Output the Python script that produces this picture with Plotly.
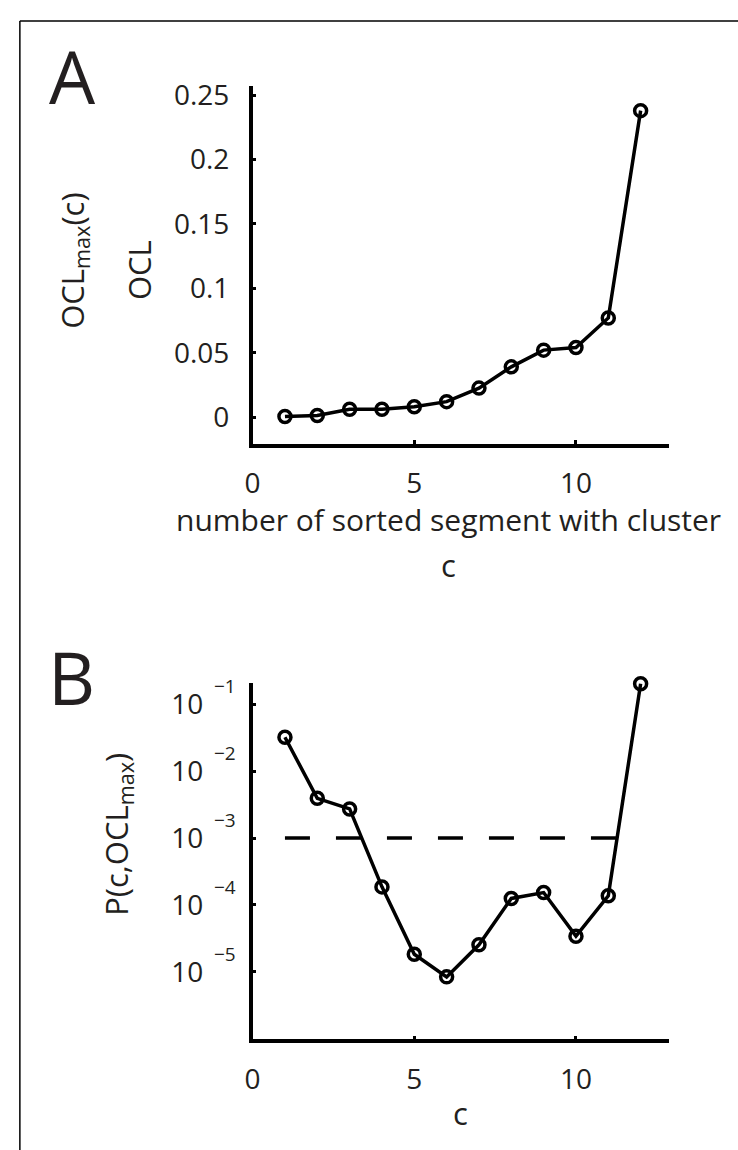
import math
import plotly.graph_objects as go

# ---- data ----
segments = [1, 2, 3, 4, 5, 6, 7, 8, 9, 10, 11, 12]
ocl_values = [0.0005, 0.0013, 0.006, 0.006, 0.008, 0.012, 0.0225, 0.039, 0.052, 0.054, 0.077, 0.238]
p_values = [0.0321, 0.00392, 0.00272, 1.86e-4, 1.83e-5, 8.4e-6, 2.53e-5, 1.25e-4, 1.53e-4, 3.41e-5, 1.37e-4, 0.203]
threshold_x = [1, 12]
threshold_y = [1e-3, 1e-3]

xticks = [0, 5, 10]
yticks_a = [0, 0.05, 0.1, 0.15, 0.2, 0.25]
yticklabels_a = ["0", "0.05", "0.1", "0.15", "0.2", "0.25"]
yticks_b = [1e-1, 1e-2, 1e-3, 1e-4, 1e-5]
yticklabels_b = ["10", "10", "10", "10", "10"]
yexponents_b = ["\u22121", "\u22122", "\u22123", "\u22124", "\u22125"]

W, H = 738, 1150
FONT = "Open Sans"
TXT = "#231f20"


def px(x):
    return x / W


def py(y):
    return 1 - y / H


fig = go.Figure()

line_style = dict(color="black", width=3.5)
marker_style = dict(symbol="circle-open", size=12, color="black", line=dict(width=3.5, color="black"))

fig.add_trace(go.Scatter(x=segments, y=ocl_values, mode="lines+markers", line=line_style,
                         marker=marker_style, xaxis="x", yaxis="y", cliponaxis=False, showlegend=False))
fig.add_trace(go.Scatter(x=threshold_x, y=threshold_y, mode="lines",
                         line=dict(color="black", width=3.5, dash="25px,26px"),
                         xaxis="x2", yaxis="y2", showlegend=False))
fig.add_trace(go.Scatter(x=segments, y=p_values, mode="lines+markers", line=line_style,
                         marker=marker_style, xaxis="x2", yaxis="y2", cliponaxis=False, showlegend=False))

xdom = [px(247.3), px(668)]
axis_common = dict(showgrid=False, zeroline=False, showline=True, linecolor="black", linewidth=3.5,
                   ticks="inside", ticklen=4, tickwidth=3, tickcolor="black",
                   tickfont=dict(family=FONT, size=28, color=TXT))

fig.update_layout(
    width=W, height=H,
    margin=dict(l=0, r=0, t=0, b=0),
    paper_bgcolor="white", plot_bgcolor="white",
    xaxis=dict(domain=xdom, range=[0, 12.87], tickvals=xticks, anchor="y",
               ticklabelstandoff=12, **axis_common),
    yaxis=dict(domain=[py(436.7), py(75.7)], range=[-0.02054, 0.25715], tickvals=yticks_a,
               ticktext=yticklabels_a, anchor="x", ticklabelstandoff=14, **axis_common),
    xaxis2=dict(domain=xdom, range=[0, 12.87], tickvals=xticks, anchor="y2",
                ticklabelstandoff=12, **axis_common),
    yaxis2=dict(domain=[py(1038.3), py(678.3)], type="log", range=[-6.01, -0.68], tickvals=yticks_b,
                ticktext=yticklabels_b, anchor="x2", ticklabelstandoff=40, **axis_common),
)

ann = []


def add_text(text, x, y, size, angle=0):
    ann.append(dict(text=text, x=px(x), y=py(y), xref="paper", yref="paper", showarrow=False,
                    xanchor="center", yanchor="middle", textangle=angle,
                    font=dict(family=FONT, size=size, color=TXT)))


add_text("A", 65, 65, 73)
add_text("B", 64, 672, 73)
add_text("OCL", 133, 262, 31, -90)
add_text("OCL<sub>max</sub>(c)", 66, 252, 31, -90)
add_text("number of sorted segment with cluster", 445, 513, 30)
add_text("c", 445, 559, 31)
add_text("P(c,OCL<sub>max</sub>)", 111, 831, 31, -90)
add_text("c", 457, 1113, 31)

# exponents of the log tick labels (annotations on a log axis use log10 coordinates)
for val, ex in zip(yticks_b, yexponents_b):
    ann.append(dict(text=ex, x=px(206), y=math.log10(val), xref="paper", yref="y2", showarrow=False,
                    xanchor="left", yanchor="middle", yshift=18,
                    font=dict(family=FONT, size=19, color=TXT)))

fig.update_layout(annotations=ann)

# frame
fig.add_shape(type="line", xref="paper", yref="paper", x0=px(12), x1=1.01, y0=py(10), y1=py(10),
              line=dict(color="black", width=1.5))
fig.add_shape(type="line", xref="paper", yref="paper", x0=px(12), x1=px(12), y0=-0.01, y1=py(10),
              line=dict(color="black", width=1.5))

fig.write_html("out.html",
               config={"displayModeBar": False},
               post_script="document.documentElement.style.margin='0';"
                           "document.body.style.margin='0';"
                           "document.body.style.overflow='hidden';")
